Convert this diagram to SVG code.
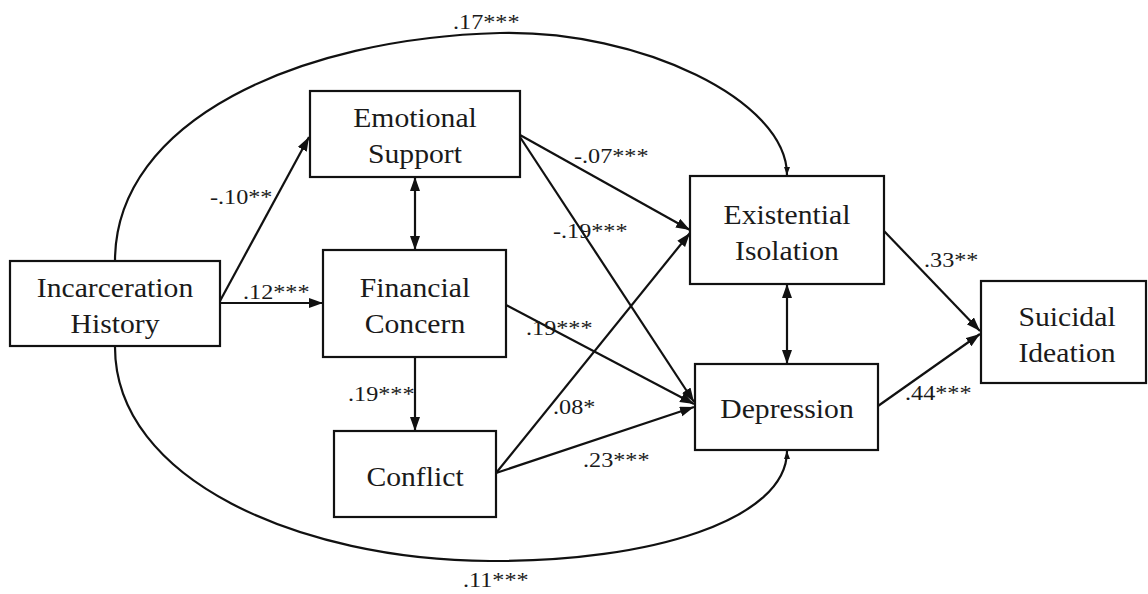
<svg xmlns="http://www.w3.org/2000/svg" width="1148" height="594" viewBox="0 0 1148 594">
<style>
.box{fill:#fff;stroke:#111;stroke-width:2.2}
.nt{font-family:"Liberation Serif","Times New Roman",serif;font-size:28px;fill:#1a1a1a;text-anchor:middle}
.lb{font-family:"Liberation Serif","Times New Roman",serif;font-size:22px;fill:#1a1a1a}
.ln{fill:none;stroke:#111;stroke-width:2.2}
.ar{marker-end:url(#ah)}
.dbl{marker-start:url(#ah);marker-end:url(#ah)}
</style>
<defs>
<marker id="ah" markerUnits="userSpaceOnUse" markerWidth="16" markerHeight="12" refX="14" refY="5" orient="auto-start-reverse" viewBox="0 0 16 12">
<path d="M0,0 L14,5 L0,10 z" fill="#111"/>
</marker>
<marker id="ahs" markerUnits="userSpaceOnUse" markerWidth="10" markerHeight="8" refX="8" refY="3" orient="auto" viewBox="0 0 10 8">
<path d="M0,0 L8,3 L0,6 z" fill="#111"/>
</marker>
</defs>
<rect width="1148" height="594" fill="#fff"/>
<g id="connectors">
<path class="ln" d="M115,261 C115,120 300,38 500,33 C640,30 787,100 787,175" marker-end="url(#ahs)"/>
<path class="ln" d="M115,347 C115,480 300,560 490,561 C650,562 787,520 787,451" marker-end="url(#ahs)"/>
<line class="ln ar" x1="220" y1="301" x2="309" y2="137"/>
<line class="ln ar" x1="220" y1="303" x2="323" y2="303"/>
<line class="ln dbl" x1="415" y1="177" x2="415" y2="250"/>
<line class="ln ar" x1="415" y1="357" x2="415" y2="431"/>
<line class="ln ar" x1="520" y1="135" x2="690" y2="230"/>
<line class="ln ar" x1="520" y1="137" x2="694" y2="402"/>
<line class="ln ar" x1="506" y1="305" x2="694" y2="404"/>
<line class="ln ar" x1="496" y1="473" x2="690" y2="233"/>
<line class="ln ar" x1="496" y1="473" x2="694" y2="407"/>
<line class="ln dbl" x1="787" y1="284" x2="787" y2="364"/>
<line class="ln ar" x1="884" y1="231" x2="980" y2="331"/>
<line class="ln ar" x1="878" y1="406" x2="980" y2="334"/>
</g>
<g id="labels">
<text class="lb" transform="translate(453,29) scale(1.1,1)">.17***</text>
<text class="lb" transform="translate(210,204) scale(1.1,1)">-.10**</text>
<text class="lb" transform="translate(243,299) scale(1.1,1)">.12***</text>
<text class="lb" transform="translate(348,401) scale(1.1,1)">.19***</text>
<text class="lb" transform="translate(463,587) scale(1.1,1)">.11***</text>
<text class="lb" transform="translate(574,163) scale(1.1,1)">-.07***</text>
<text class="lb" transform="translate(553,238) scale(1.1,1)">-.19***</text>
<text class="lb" transform="translate(526,335) scale(1.1,1)">.19***</text>
<text class="lb" transform="translate(553,414) scale(1.1,1)">.08*</text>
<text class="lb" transform="translate(583,467) scale(1.1,1)">.23***</text>
<text class="lb" transform="translate(924,267) scale(1.1,1)">.33**</text>
<text class="lb" transform="translate(905,400) scale(1.1,1)">.44***</text>
</g>
<g id="incarceration">
<rect class="box" x="10" y="261" width="210" height="85"/>
<text class="nt" transform="translate(115,297) scale(1.06,1)">Incarceration</text>
<text class="nt" transform="translate(115,333) scale(1.06,1)">History</text>
</g>
<g id="emotional">
<rect class="box" x="310" y="91" width="210" height="86"/>
<text class="nt" transform="translate(415,127) scale(1.06,1)">Emotional</text>
<text class="nt" transform="translate(415,163) scale(1.06,1)">Support</text>
</g>
<g id="financial">
<rect class="box" x="323" y="250" width="183" height="107"/>
<text class="nt" transform="translate(415,297) scale(1.06,1)">Financial</text>
<text class="nt" transform="translate(415,333) scale(1.06,1)">Concern</text>
</g>
<g id="conflict">
<rect class="box" x="334" y="431" width="162" height="86"/>
<text class="nt" transform="translate(415,486) scale(1.06,1)">Conflict</text>
</g>
<g id="existential">
<rect class="box" x="690" y="176" width="194" height="108"/>
<text class="nt" transform="translate(787,224) scale(1.06,1)">Existential</text>
<text class="nt" transform="translate(787,260) scale(1.06,1)">Isolation</text>
</g>
<g id="depression">
<rect class="box" x="695" y="364" width="183" height="86"/>
<text class="nt" transform="translate(787,418) scale(1.06,1)">Depression</text>
</g>
<g id="suicidal">
<rect class="box" x="981" y="281" width="165" height="102"/>
<text class="nt" transform="translate(1067,326) scale(1.06,1)">Suicidal</text>
<text class="nt" transform="translate(1067,362) scale(1.06,1)">Ideation</text>
</g>
</svg>
